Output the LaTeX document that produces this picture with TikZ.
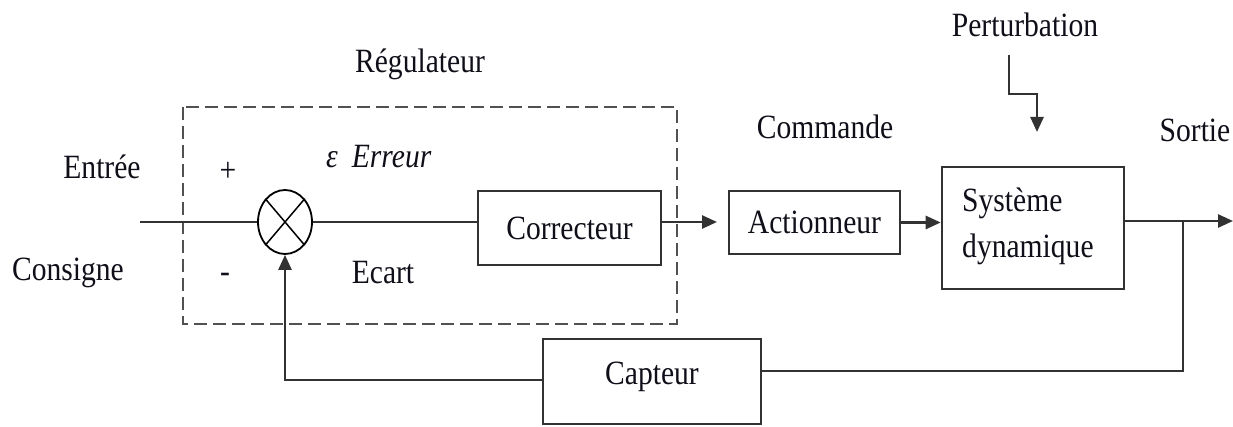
\documentclass[tikz,border=0pt]{standalone}
\usepackage{fontspec}
\setmainfont{Liberation Serif}[FakeStretch=0.87]
\usetikzlibrary{arrows.meta,shapes.geometric}
\definecolor{linec}{RGB}{50,50,50}
\definecolor{txtc}{RGB}{15,15,25}
\tikzset{
  lbl/.style={text=txtc,inner sep=0pt,font=\fontsize{34}{40}\selectfont},
  blk/.style={draw=linec,line width=2.6pt,fill=none,inner sep=0pt,text=txtc,font=\fontsize{34}{40}\selectfont},
  wire/.style={draw=linec,line width=2.6pt},
  arr/.style={wire,-{Triangle[length=15pt,width=13pt]}},
  dashbox/.style={draw=linec!85,line width=2.4pt,dash pattern=on 13pt off 6pt}
}
\begin{document}
\begin{tikzpicture}[x=1pt,y=-1pt]
\useasboundingbox (0,0) rectangle (1233,427);
% regulator dashed box
\draw[dashbox] (183,107) rectangle (677,324);
% blocks
\node[blk,minimum width=183pt,minimum height=74pt] (corr) at (569.5,228) {Correcteur};
\node[blk,minimum width=171pt,minimum height=63pt] (act) at (814.5,222.5) {Actionneur};
\node[blk,minimum width=182pt,minimum height=122pt] (sys) at (1033,228) {};
\node[blk,minimum width=218pt,minimum height=85pt] (cap) at (652,381.5) {};
\node[lbl] (captxt) at (652,377) {Capteur};
\node[lbl,anchor=west] (sys1) at (962,203) {Système};
\node[lbl,anchor=west] (sys2) at (962,249) {dynamique};
% summing junction
\node[ellipse,draw=black,line width=1.8pt,minimum width=54pt,minimum height=64pt,inner sep=0pt] (sum) at (285,222) {};
\draw[line width=1.5pt] (sum.north east) -- (sum.south west);
\draw[line width=1.5pt] (sum.north west) -- (sum.south east);
% labels
\node[lbl] (reg) at (420,64) {Régulateur};
\node[lbl] (entree) at (102,167) {Entrée};
\node[lbl] (consigne) at (68,273) {Consigne};
\node[lbl] (plus) at (228,172) {+};
\node[lbl] (minus) at (225,278) {-};
\node[lbl,anchor=west] (err) at (326,157) {\textit{ε}\hspace{14pt}\textit{Erreur}};
\node[lbl] (ecart) at (383,273) {Ecart};
\node[lbl] (cmd) at (825,127) {Commande};
\node[lbl] (pert) at (1025,25) {Perturbation};
\node[lbl] (sortie) at (1195,130) {Sortie};
% coordinates
\coordinate (in) at (140,222);
\coordinate (cmdend) at (717,222);
\coordinate (out) at (1233,221);
\coordinate (br) at (1183,221);
\coordinate (brlow) at (1183,371);
\coordinate (fbcorner) at (285,380);
\coordinate (p1) at (1009,55);
\coordinate (p2) at (1009,94);
\coordinate (p3) at (1037,94);
\coordinate (p4) at (1037,132);
% connectors
\draw[wire] (in) -- (sum.west);
\draw[wire] (sum.east) -- (sum.east -| corr.west);
\draw[arr] (corr.east |- cmdend) -- (cmdend);
\draw[arr] (act.east) -- (sys.west |- act.east);
\draw[arr] (sys.east |- out) -- (out);
\draw[wire] (br) -- (brlow) -- (cap.east |- brlow);
\draw[arr] (cap.west |- fbcorner) -- (fbcorner) -- (sum.south);
\draw[arr] (p1) -- (p2) -- (p3) -- (p4);
\end{tikzpicture}
\end{document}
